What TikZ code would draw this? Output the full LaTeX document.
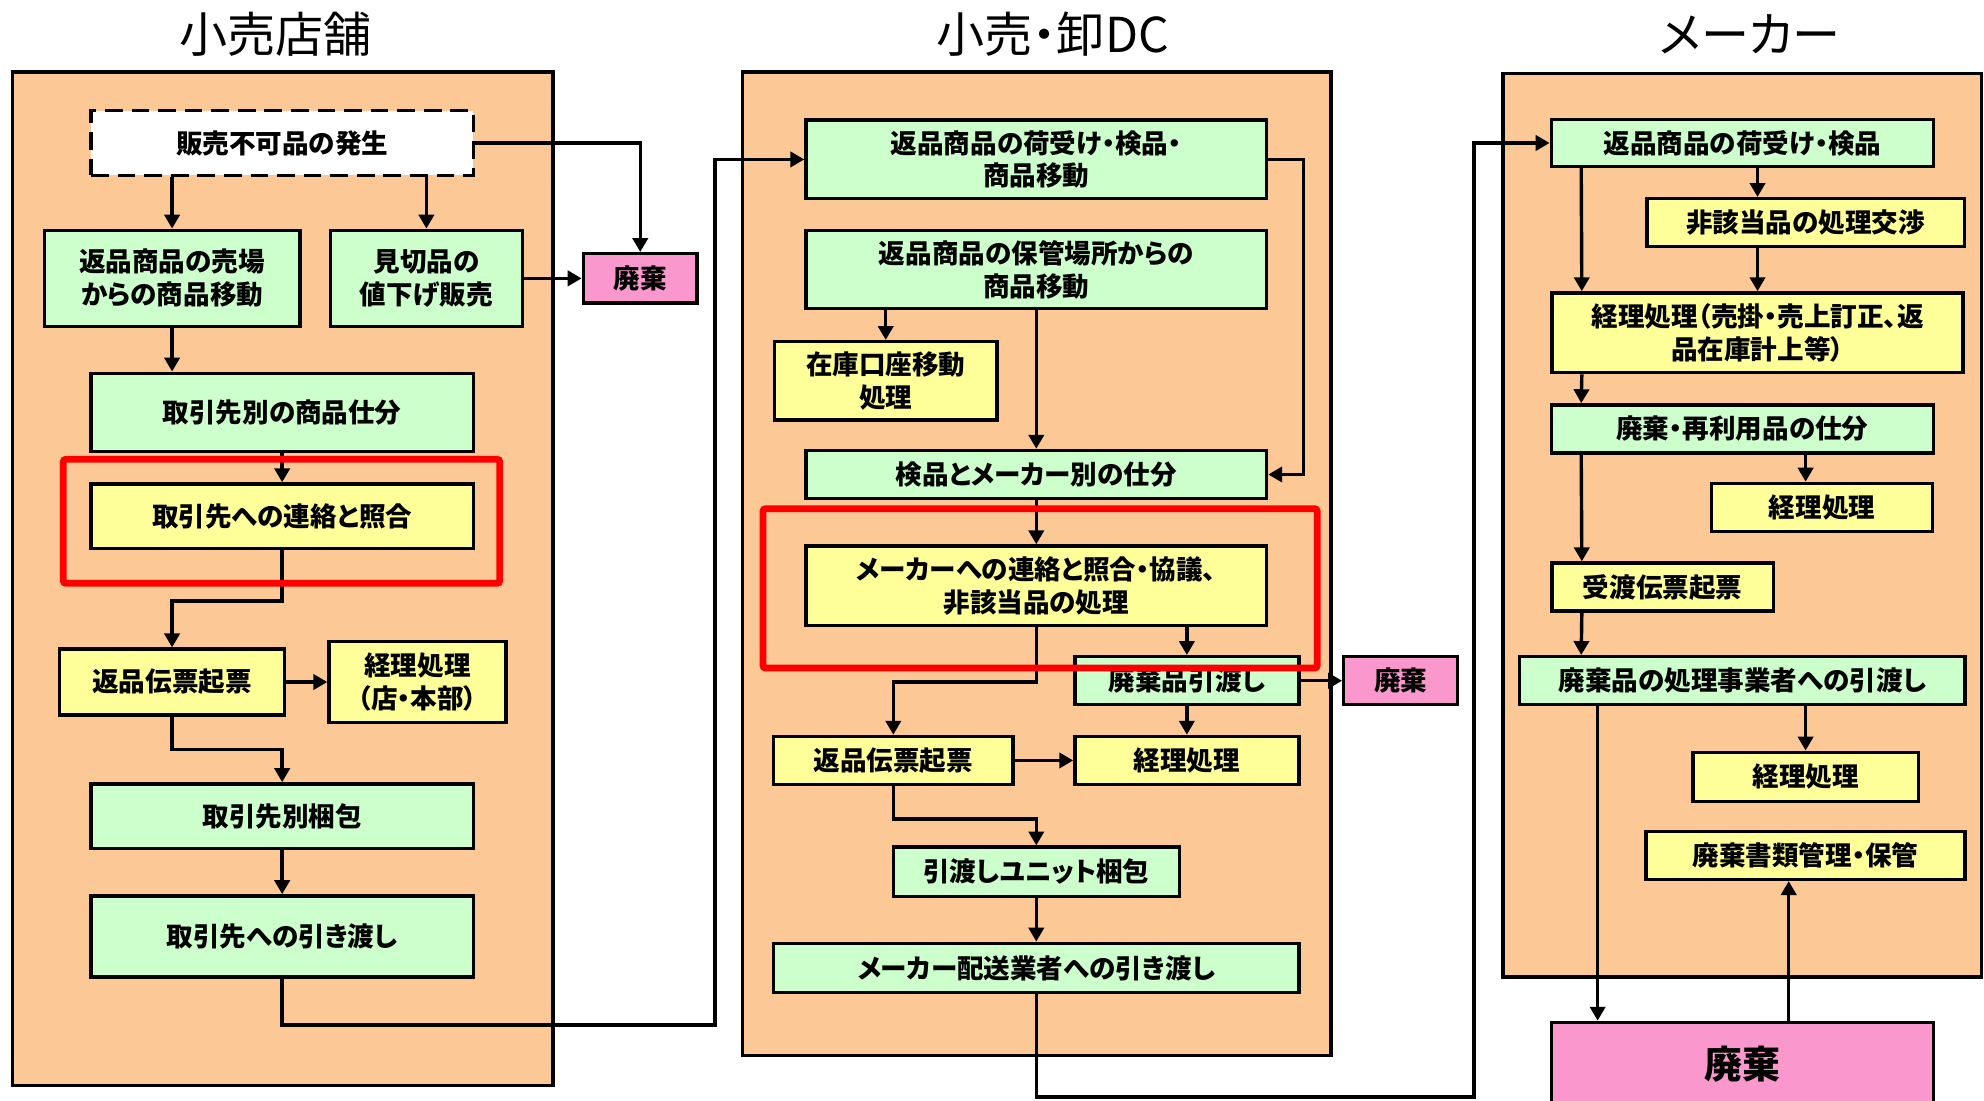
\documentclass[tikz,border=0pt]{standalone}
\usepackage{fontspec}
\newfontfamily\jp[RawFeature=+palt]{Noto Sans CJK JP}
\usetikzlibrary{arrows.meta}
\definecolor{panelpeach}{RGB}{251,200,150}
\definecolor{boxgreen}{RGB}{204,255,204}
\definecolor{boxyellow}{RGB}{255,255,153}
\definecolor{boxpink}{RGB}{250,152,205}
\begin{document}
\begin{tikzpicture}[x=1pt, y=-1pt,
    box/.style={draw, line width=2.7, inner sep=0, align=center, font=\jp\bfseries\fontsize{21}{26}\selectfont},
    gbox/.style={box, fill=boxgreen},
    ybox/.style={box, fill=boxyellow},
    pbox/.style={box, fill=boxpink},
    sz/.style 2 args={minimum width=#1, minimum height=#2},
    panel/.style={draw, line width=2.7, fill=panelpeach},
    title/.style={font=\jp\fontsize{38}{40}\selectfont},
    arr/.style={-{Triangle[length=11pt, width=12pt]}, line width=2.7},
    hilite/.style={draw=red, line width=5.3, rounded corners=2}]
  \clip (0,0) rectangle (1568,870);
  \fill [white] (0,0) rectangle (1568,870);
  \node [title] (ttl1) at (218,27) {小売店舗};
  \node [title] (ttl2) at (832,27) {小売・卸DC};
  \node [title] (ttl3) at (1383,27) {メーカー};
  \draw [panel] (10,57) rectangle (437,858);
  \draw [panel] (587,57) rectangle (1052,834);
  \draw [panel] (1188,58) rectangle (1566,772);
  \node [box, fill=white, dash pattern=on 14pt off 7pt, sz={302}{51}] (sale) at (223,113) {販売不可品の発生};
  \node [gbox, sz={202}{76}] (move1) at (136,220) {返品商品の売場\\からの商品移動};
  \node [gbox, sz={152}{76}] (cut) at (337,220) {見切品の\\値下げ販売};
  \node [pbox, sz={90}{39}] (disp1) at (506,220) {廃棄};
  \node [gbox, sz={302}{62}] (sort1) at (223,326) {取引先別の商品仕分};
  \node [ybox, sz={302}{51}] (contact1) at (223,408) {取引先への連絡と照合};
  \node [ybox, sz={178}{52}] (slip1) at (136,539) {返品伝票起票};
  \node [ybox, sz={140}{64}] (acct1) at (330,539) {経理処理\\（店・本部）};
  \node [gbox, sz={302}{51}] (pack1) at (223,645) {取引先別梱包};
  \node [gbox, sz={302}{64}] (hand1) at (223,740) {取引先への引き渡し};
  \node [gbox, sz={364}{62}] (recv2) at (819,126) {返品商品の荷受け・検品・\\商品移動};
  \node [gbox, sz={364}{62}] (store) at (819,213) {返品商品の保管場所からの\\商品移動};
  \node [ybox, sz={176}{62}] (stock) at (700,301) {在庫口座移動\\処理};
  \node [gbox, sz={364}{38}] (sort2) at (819,375) {検品とメーカー別の仕分};
  \node [ybox, sz={364}{63}] (nego) at (819,463) {メーカーへの連絡と照合・協議、\\非該当品の処理};
  \node [gbox, sz={177}{38}] (wh) at (938,538) {廃棄品引渡し};
  \node [pbox, sz={90}{38}] (disp2) at (1107,538) {廃棄};
  \node [ybox, sz={189}{38}] (slip2) at (706,601) {返品伝票起票};
  \node [ybox, sz={177}{38}] (acct2) at (938,601) {経理処理};
  \node [gbox, sz={226}{39}] (unit) at (819,689) {引渡しユニット梱包};
  \node [gbox, sz={415}{39}] (ship) at (819,765) {メーカー配送業者への引き渡し};
  \node [gbox, sz={302}{37}] (recv3) at (1377,113) {返品商品の荷受け・検品};
  \node [ybox, sz={251}{38}] (nego3) at (1427,176) {非該当品の処理交渉};
  \node [ybox, sz={325}{63}] (acct3) at (1389,263) {経理処理（売掛・売上訂正、返\\品在庫計上等）};
  \node [gbox, sz={302}{38}] (sort3) at (1377,339) {廃棄・再利用品の仕分};
  \node [ybox, sz={175}{38}] (acct4) at (1440,401) {経理処理};
  \node [ybox, sz={175}{38}] (slip3) at (1314,464) {受渡伝票起票};
  \node [gbox, sz={352}{38}] (hand3) at (1377,538) {廃棄品の処理事業者への引渡し};
  \node [ybox, sz={178}{39}] (acct5) at (1427,614) {経理処理};
  \node [ybox, sz={252}{38}] (docs) at (1427,676) {廃棄書類管理・保管};
  \node [pbox, sz={302}{66}, font=\jp\bfseries\fontsize{30}{34}\selectfont] (disp3) at (1377,841) {廃棄};
  \coordinate (c1) at (565,810);
  \coordinate (c2) at (1165,867);
  \draw [arr] (sale.south -| move1) -- (move1);
  \draw [arr] (sale.south -| cut) -- (cut);
  \draw [arr] (sale) -| (disp1);
  \draw [arr] (cut) -- (disp1);
  \draw [arr] (move1.south) -- (move1.south |- sort1.north);
  \draw [arr] (sort1) -- (contact1);
  \draw [arr] (contact1.south) -- ++(0,40) -| (slip1);
  \draw [arr] (slip1) -- (acct1);
  \draw [arr] (slip1.south) -- ++(0,26) -| (pack1);
  \draw [arr] (pack1) -- (hand1);
  \draw [arr] (hand1) |- (c1) |- (recv2);
  \draw [arr] (recv2.east) -- ++(28,0) |- (sort2.east);
  \draw [arr] (store.south -| stock) -- (stock);
  \draw [arr] (store) -- (sort2);
  \draw [arr] (sort2) -- (nego);
  \draw [arr] (nego.south -| wh) -- (wh);
  \draw [arr] (nego.south) -- ++(0,43) -| (slip2);
  \draw [arr] (wh) -- (disp2);
  \draw [arr] (wh) -- (acct2);
  \draw [arr] (slip2) -- (acct2);
  \draw [arr] (slip2.south) -- ++(0,26) -| (unit);
  \draw [arr] (unit) -- (ship);
  \draw [arr] (ship) |- (c2) |- (recv3);
  \draw [arr] ([xshift=25]recv3.south west) -- ([xshift=25]acct3.north west);
  \draw [arr] (recv3.south -| acct3) -- (nego3.north -| acct3);
  \draw [arr] (nego3.south -| acct3) -- (acct3);
  \draw [arr] ([xshift=25]acct3.south west) -- ([xshift=25]sort3.north west);
  \draw [arr] ([xshift=25]sort3.south west) -- ([xshift=25]slip3.north west);
  \draw [arr] (sort3.south -| nego3) -- (acct4.north -| nego3);
  \draw [arr] ([xshift=25]slip3.south west) -- ([xshift=50]hand3.north west);
  \draw [arr] (hand3.south -| acct5) -- (acct5);
  \draw [arr] ([xshift=63]hand3.south west) -- ([xshift=38]disp3.north west);
  \draw [arr] ([xshift=189]disp3.north west) -- ([xshift=114]docs.south west);
  \draw [hilite] (50,363) rectangle (395,461);
  \draw [hilite] (603,402) rectangle (1041,528);
\end{tikzpicture}
\end{document}
